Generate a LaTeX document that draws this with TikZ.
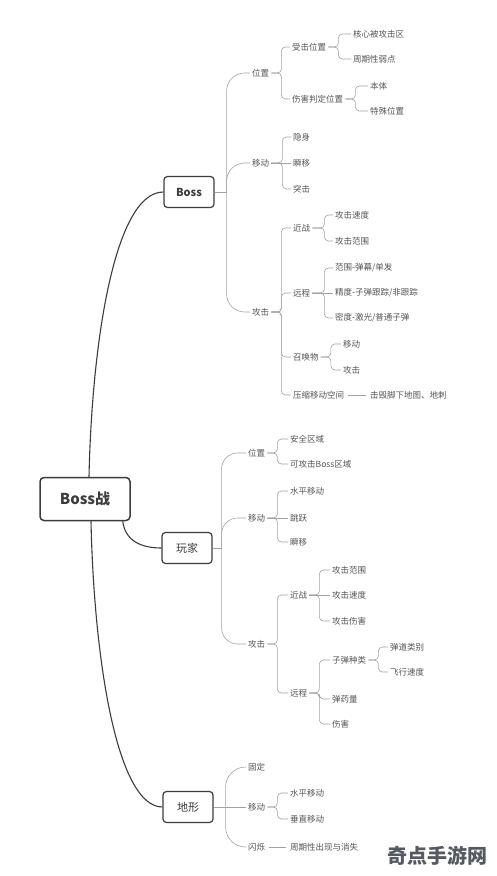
\documentclass[tikz,border=0pt]{standalone}
\usepackage{fontspec}
\setmainfont{Noto Sans CJK SC}
\usetikzlibrary{positioning}
\definecolor{boxline}{HTML}{3C3C3C}
\definecolor{linegray}{HTML}{A3A3A3}
\definecolor{txtgray}{HTML}{555555}
\definecolor{markgray}{HTML}{555A60}
\tikzset{
  rootbox/.style={draw=boxline, line width=1.5pt, rounded corners=4pt, minimum width=90pt, minimum height=43pt, font=\fontsize{15}{18}\selectfont\bfseries, text=boxline},
  topicbox/.style={draw=boxline, line width=1.2pt, rounded corners=3.5pt, minimum width=50pt, minimum height=31pt, font=\fontsize{11}{13}\selectfont, text=boxline},
  lbl/.style={anchor=west, inner sep=2pt, font=\fontsize{8.5}{10}\selectfont, text=txtgray},
  mainlink/.style={draw=boxline, line width=1.1pt},
  sublink/.style={draw=linegray, line width=0.6pt, rounded corners=#1},
  sublink/.default=4pt
}
\begin{document}
\begin{tikzpicture}[x=1pt,y=-1pt]
  \fill[white](0,0)rectangle(496,876);
  \useasboundingbox(0,0)rectangle(496,876);

  \node[rootbox](root)at(85,499){Boss战};
  \node[topicbox, font=\fontsize{11}{13}\selectfont\bfseries](boss)at(189,192){Boss};
  \node[topicbox](player)at(187,548){玩家};
  \node[topicbox](terrain)at(188,807){地形};

  \draw[mainlink]([xshift=4pt]root.north) .. controls (92,340) and (115,192) .. (boss.west);
  \draw[mainlink]([xshift=-8pt]root.south east) .. controls (125,540) and (140,548) .. (player.west);
  \draw[mainlink]([xshift=6pt]root.south) .. controls (94,660) and (117,807) .. (terrain.west);

  % Boss
  \node[lbl](bpos)at(250,73){位置};
  \node[lbl](bhit)at(290,47){受击位置};
  \node[lbl](bcore)at(351,34){核心被攻击区};
  \node[lbl](bweak)at(351,59){周期性弱点};
  \node[lbl](bjudge)at(290,99){伤害判定位置};
  \node[lbl](bbody)at(368,86){本体};
  \node[lbl](bspec)at(368,111){特殊位置};

  \node[lbl](bmove)at(250,163){移动};
  \node[lbl](bhide)at(291,137){隐身};
  \node[lbl](bblink)at(291,163){瞬移};
  \node[lbl](bdash)at(291,189){突击};

  \node[lbl](batk)at(250,312){攻击};
  \node[lbl](bmelee)at(291,228){近战};
  \node[lbl](bmspd)at(333,215){攻击速度};
  \node[lbl](bmrng)at(333,241){攻击范围};
  \node[lbl](branged)at(291,293){远程};
  \node[lbl](brrng)at(333,268){范围-弹幕/单发};
  \node[lbl](bracc)at(333,293){精度-子弹跟踪/非跟踪};
  \node[lbl](brden)at(333,318){密度-激光/普通子弹};
  \node[lbl](bsum)at(291,357){召唤物};
  \node[lbl](bsmove)at(341,344){移动};
  \node[lbl](bsatk)at(341,370){攻击};
  \node[lbl](bsqz)at(291,395){压缩移动空间};
  \node[lbl](bbreak)at(368,395){击毁脚下地图、地刺};

  \coordinate(bossfork)at([xshift=12pt]boss.east);
  \draw[sublink](boss.east)--(bossfork);
  \draw[sublink=18pt](bossfork)|-(bpos.west);
  \draw[sublink=18pt](bossfork)|-(bmove.west);
  \draw[sublink=18pt](bossfork)|-(batk.west);

  \draw[sublink](bpos.east)--++(10,0)|-(bhit.west);
  \draw[sublink](bpos.east)--++(10,0)|-(bjudge.west);
  \draw[sublink](bhit.east)--++(10,0)|-(bcore.west);
  \draw[sublink](bhit.east)--++(10,0)|-(bweak.west);
  \draw[sublink](bjudge.east)--++(10,0)|-(bbody.west);
  \draw[sublink](bjudge.east)--++(10,0)|-(bspec.west);

  \draw[sublink](bmove.east)--++(11,0)|-(bhide.west);
  \draw[sublink](bmove.east)--(bblink.west);
  \draw[sublink](bmove.east)--++(11,0)|-(bdash.west);

  \draw[sublink](batk.east)--++(10,0)|-(bmelee.west);
  \draw[sublink](batk.east)--++(10,0)|-(branged.west);
  \draw[sublink](batk.east)--++(10,0)|-(bsum.west);
  \draw[sublink](batk.east)--++(10,0)|-(bsqz.west);
  \draw[sublink](bmelee.east)--++(12,0)|-(bmspd.west);
  \draw[sublink](bmelee.east)--++(12,0)|-(bmrng.west);
  \draw[sublink](branged.east)--++(12,0)|-(brrng.west);
  \draw[sublink](branged.east)--(bracc.west);
  \draw[sublink](branged.east)--++(12,0)|-(brden.west);
  \draw[sublink](bsum.east)--++(10,0)|-(bsmove.west);
  \draw[sublink](bsum.east)--++(10,0)|-(bsatk.west);
  \draw[sublink, shorten >=2pt, shorten <=2pt](bsqz.east)--(bbreak.west);

  % player
  \node[lbl](ppos)at(246,453){位置};
  \node[lbl](psafe)at(288,439){安全区域};
  \node[lbl](phit)at(288,464){可攻击Boss区域};
  \node[lbl](pmove)at(246,518){移动};
  \node[lbl](pwalk)at(288,491){水平移动};
  \node[lbl](pjump)at(288,518){跳跃};
  \node[lbl](pblink)at(288,542){瞬移};
  \node[lbl](patk)at(246,644){攻击};
  \node[lbl](pmelee)at(288,595){近战};
  \node[lbl](pmrng)at(330,570){攻击范围};
  \node[lbl](pmspd)at(330,595){攻击速度};
  \node[lbl](pmdmg)at(330,621){攻击伤害};
  \node[lbl](pranged)at(288,693){远程};
  \node[lbl](pbullet)at(330,660){子弹种类};
  \node[lbl](ptrack)at(388,647){弹道类别};
  \node[lbl](pspeed)at(388,672){飞行速度};
  \node[lbl](pammo)at(330,699){弹药量};
  \node[lbl](pdmg)at(330,724){伤害};

  \coordinate(playerfork)at([xshift=9pt]player.east);
  \draw[sublink](player.east)--(playerfork);
  \draw[sublink=16pt](playerfork)|-(ppos.west);
  \draw[sublink=16pt](playerfork)|-(pmove.west);
  \draw[sublink=16pt](playerfork)|-(patk.west);

  \draw[sublink](ppos.east)--++(10,0)|-(psafe.west);
  \draw[sublink](ppos.east)--++(10,0)|-(phit.west);
  \draw[sublink](pmove.east)--++(10,0)|-(pwalk.west);
  \draw[sublink](pmove.east)--(pjump.west);
  \draw[sublink](pmove.east)--++(10,0)|-(pblink.west);
  \draw[sublink](patk.east)--++(10,0)|-(pmelee.west);
  \draw[sublink](patk.east)--++(10,0)|-(pranged.west);
  \draw[sublink](pmelee.east)--++(10,0)|-(pmrng.west);
  \draw[sublink](pmelee.east)--(pmspd.west);
  \draw[sublink](pmelee.east)--++(10,0)|-(pmdmg.west);
  \draw[sublink](pranged.east)--++(10,0)|-(pbullet.west);
  \draw[sublink](pranged.east)--++(10,0)|-(pammo.west);
  \draw[sublink](pranged.east)--++(10,0)|-(pdmg.west);
  \draw[sublink](pbullet.east)--++(10,0)|-(ptrack.west);
  \draw[sublink](pbullet.east)--++(10,0)|-(pspeed.west);

  % terrain
  \node[lbl](tfix)at(246,767){固定};
  \node[lbl](tmove)at(246,807){移动};
  \node[lbl](twalk)at(288,793){水平移动};
  \node[lbl](tlift)at(288,819){垂直移动};
  \node[lbl](tflash)at(246,847){闪烁};
  \node[lbl](tcycle)at(288,847){周期性出现与消失};

  \coordinate(terrainfork)at([xshift=12pt]terrain.east);
  \draw[sublink=20pt](terrainfork)|-(tfix.west);
  \draw[sublink](terrain.east)--(tmove.west);
  \draw[sublink=20pt](terrainfork)|-(tflash.west);

  \draw[sublink](tmove.east)--++(10,0)|-(twalk.west);
  \draw[sublink](tmove.east)--++(10,0)|-(tlift.west);
  \draw[sublink, shorten >=2pt, shorten <=2pt](tflash.east)--(tcycle.west);

  \node[text=markgray, font=\fontsize{20}{22}\selectfont\bfseries](mark)at(437,856){奇点手游网};
\end{tikzpicture}
\end{document}
